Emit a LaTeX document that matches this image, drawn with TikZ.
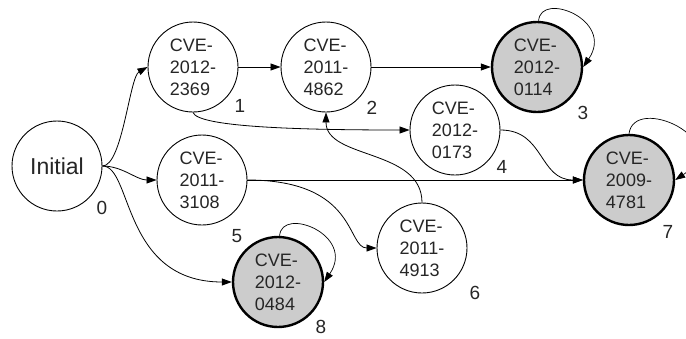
\documentclass[tikz,border=0pt]{standalone}
\usepackage{fontspec}
\setmainfont{Liberation Sans}
\usetikzlibrary{arrows.meta}
\definecolor{txt}{gray}{0.15}
\definecolor{acc}{gray}{0.8}
\tikzset{
  state/.style={circle, draw, line width=0.9pt, fill=white, minimum size=90pt,
    inner sep=0pt, align=left, text=txt, font=\fontsize{18}{22}\selectfont},
  accept/.style={state, fill=acc, line width=2.4pt},
  init/.style={state, font=\fontsize{23}{26}\selectfont},
  num/.style={text=txt, font=\fontsize{19}{21}\selectfont},
  edge/.style={-{Triangle[length=10pt,width=7pt]}, line width=0.8pt},
  selfloop/.style={edge, line width=0.7pt}
}
\begin{document}
\begin{tikzpicture}[x=1pt,y=-1pt]
\useasboundingbox (0,0) rectangle (686,338);
\clip (0,0) rectangle (686,338);

% states
\node[init]   (n0) at (57,166)  {Initial};
\node[state]  (n1) at (193,67)  {CVE-\\2012-\\2369};
\node[state]  (n2) at (326,67)  {CVE-\\2011-\\4862};
\node[accept] (n3) at (537,67)  {CVE-\\2012-\\0114};
\node[state]  (n4) at (455,130) {CVE-\\2012-\\0173};
\node[state]  (n5) at (202,180) {CVE-\\2011-\\3108};
\node[state]  (n6) at (422,248) {CVE-\\2011-\\4913};
\node[accept] (n7) at (629,180) {CVE-\\2009-\\4781};
\node[accept] (n8) at (278,282) {CVE-\\2012-\\0484};

% state numbers
\node[num] (l0) at (102,208) {0};
\node[num] (l1) at (240,106) {1};
\node[num] (l2) at (372,108) {2};
\node[num] (l3) at (583,113) {3};
\node[num] (l4) at (502,167) {4};
\node[num] (l5) at (237,236) {5};
\node[num] (l6) at (475,293) {6};
\node[num] (l7) at (668,232) {7};
\node[num] (l8) at (321,327) {8};

% transitions
\draw[edge] (n0.east) .. controls +(20,0) and +(-18,10) .. (n1.west);
\draw[edge] (n0.east) .. controls +(20,0) and +(-20,0) .. (n5.west);
\draw[edge] (n0.east) .. controls +(30,0) and +(-110,0) .. (n8.west);
\draw[edge] (n1.east) -- (n2.west);
\draw[edge] (n2.east) -- (n3.west);
\draw[edge] (n1.south) .. controls +(5,14) and +(-120,0) .. (n4.west);
\draw[edge] (n5.east) -- (n7.west);
\draw[edge] (n5.east) .. controls +(110,0) and +(-30,0) .. (n6.west);
\draw[edge] (n6.north) .. controls +(0,-54) and +(0,47) .. (n2.south);
\draw[edge] (n4.east) .. controls +(44,0) and +(-44,0) .. (n7.west);

% self loops on the final states
\draw[selfloop] (n3.88) .. controls +(2,-30) and +(32,-47) .. (n3.east);
\draw[selfloop] (n7.90) .. controls +(5,-40) and +(60,-40) .. (n7.east);
\draw[selfloop] (n8.88) .. controls +(2,-30) and +(32,-47) .. (n8.east);
\end{tikzpicture}
\end{document}
